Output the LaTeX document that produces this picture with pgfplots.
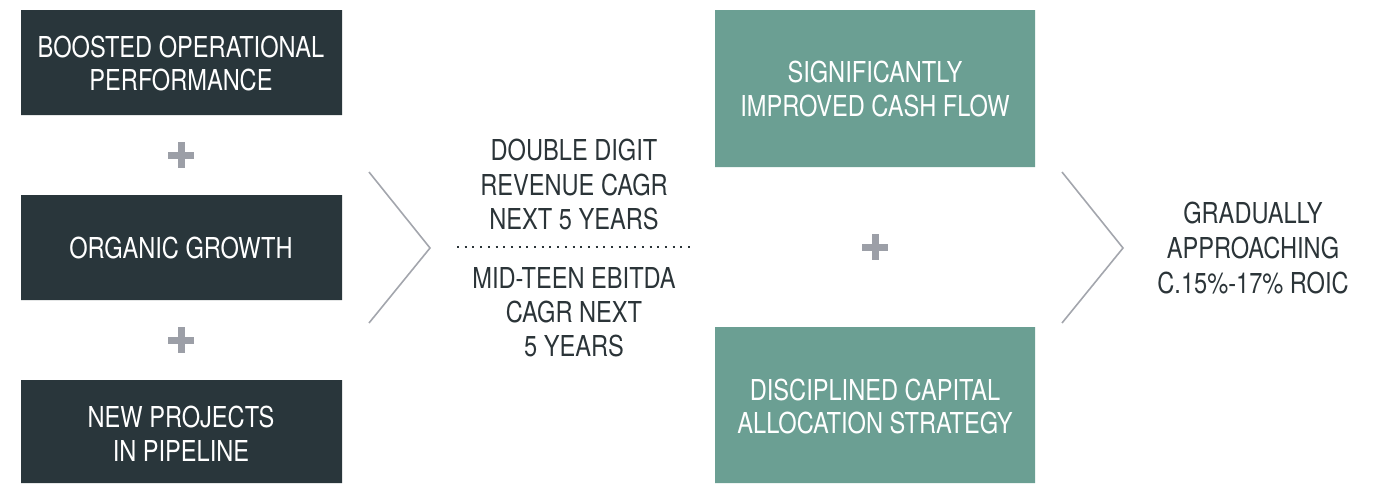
\documentclass[border=0pt]{standalone}
\usepackage{pgfplots}
\pgfplotsset{compat=1.18}
\usepackage{fontspec}
\setmainfont{TeX Gyre Heros}[FakeStretch=0.82]

\definecolor{darkbox}{HTML}{29363B}
\definecolor{greenbox}{HTML}{6B9F93}
\definecolor{darktext}{HTML}{2B3438}
\definecolor{plusgray}{HTML}{9C9FA7}
\definecolor{chevgray}{HTML}{A3A6AD}

\begin{document}
\begin{tikzpicture}
\begin{axis}[
    width=696pt, height=241.5pt,
    scale only axis,
    hide axis,
    xmin=0, xmax=1392,
    ymin=0, ymax=483,
    y dir=reverse,
    clip=false,
]
\path (axis cs:0,0) rectangle (axis cs:1392,483);

% left boxes
\addplot[fill=darkbox, draw=none] coordinates {(21,10) (342,10) (342,115) (21,115) (21,10)};
\addplot[fill=darkbox, draw=none] coordinates {(21,195) (342,195) (342,300) (21,300) (21,195)};
\addplot[fill=darkbox, draw=none] coordinates {(21,380) (342,380) (342,483) (21,483) (21,380)};

% right boxes
\addplot[fill=greenbox, draw=none] coordinates {(715,10) (1035,10) (1035,167) (715,167) (715,10)};
\addplot[fill=greenbox, draw=none] coordinates {(715,327) (1035,327) (1035,483) (715,483) (715,327)};

% plus signs
\addplot[plusgray, line width=3.5pt] coordinates {(168,155) (194,155)};
\addplot[plusgray, line width=3.5pt] coordinates {(181,142) (181,168)};
\addplot[plusgray, line width=3.5pt] coordinates {(168,340) (194,340)};
\addplot[plusgray, line width=3.5pt] coordinates {(181,327) (181,353)};
\addplot[plusgray, line width=3.5pt] coordinates {(862,247) (888,247)};
\addplot[plusgray, line width=3.5pt] coordinates {(875,234) (875,260)};

% chevrons
\addplot[chevgray, line width=0.8pt] coordinates {(369,172) (430,248) (369,323)};
\addplot[chevgray, line width=0.8pt] coordinates {(1062,172) (1123,248) (1062,323)};

% dotted divider
\addplot[darktext, line width=1pt, dash pattern=on 1pt off 2.85pt] coordinates {(457,247) (690,247)};

% texts
\tikzset{lbl/.style={anchor=base, inner sep=0pt, font=\fontsize{14.4}{17}\selectfont}}
\node[lbl, text=white] at (axis cs:181,57) {BOOSTED OPERATIONAL};
\node[lbl, text=white] at (axis cs:181,90) {PERFORMANCE};
\node[lbl, text=white] at (axis cs:181,258) {ORGANIC GROWTH};
\node[lbl, text=white] at (axis cs:181,427) {NEW PROJECTS};
\node[lbl, text=white] at (axis cs:181,461) {IN PIPELINE};

\node[lbl, text=darktext] at (axis cs:574,160) {DOUBLE DIGIT};
\node[lbl, text=darktext] at (axis cs:574,195) {REVENUE CAGR};
\node[lbl, text=darktext] at (axis cs:574,229) {NEXT 5 YEARS};
\node[lbl, text=darktext] at (axis cs:574,288) {MID-TEEN EBITDA};
\node[lbl, text=darktext] at (axis cs:574,322) {CAGR NEXT};
\node[lbl, text=darktext] at (axis cs:574,356) {5 YEARS};

\node[lbl, text=white] at (axis cs:875,82) {SIGNIFICANTLY};
\node[lbl, text=white] at (axis cs:875,116) {IMPROVED CASH FLOW};
\node[lbl, text=white] at (axis cs:875,400) {DISCIPLINED CAPITAL};
\node[lbl, text=white] at (axis cs:875,433) {ALLOCATION STRATEGY};

\node[lbl, text=darktext] at (axis cs:1253,223) {GRADUALLY};
\node[lbl, text=darktext] at (axis cs:1253,258) {APPROACHING};
\node[lbl, text=darktext] at (axis cs:1253,293) {C.15\%-17\% ROIC};
\end{axis}
\end{tikzpicture}
\end{document}
